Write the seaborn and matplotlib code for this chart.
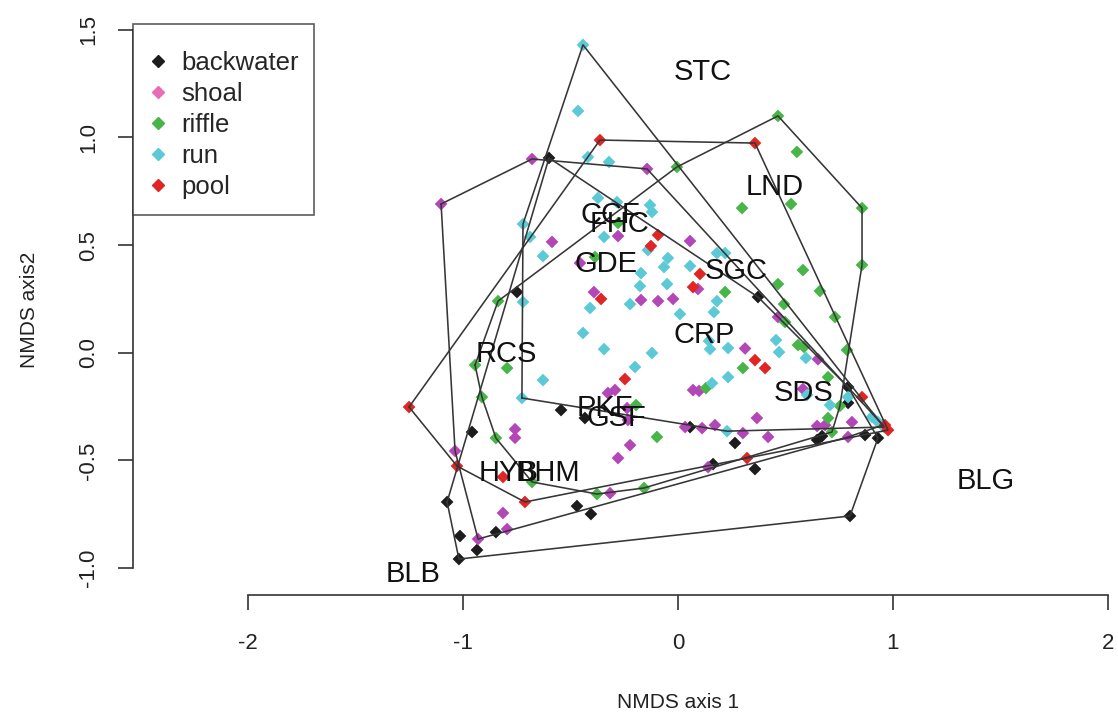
import numpy as np
import pandas as pd
import matplotlib
matplotlib.use("Agg")
import matplotlib.pyplot as plt
from matplotlib.lines import Line2D
import seaborn as sns

# site scores, one pair of lists per habitat
backwater_x = [-0.600, 0.372, -0.749, 0.791, 0.791, 0.930, 0.870, 0.800, 0.647, 0.670, 0.358, 0.265,
               0.163, 0.056, -0.433, -0.544, -0.470, -0.405, -0.847, -1.014, -0.935, -1.019, -1.074, -0.958]
backwater_y = [0.905, 0.259, 0.282, -0.159, -0.233, -0.396, -0.382, -0.758, -0.405, -0.387, -0.540, -0.419,
               -0.517, -0.345, -0.303, -0.266, -0.712, -0.749, -0.833, -0.851, -0.916, -0.958, -0.693, -0.368]

shoal_x = [-1.102, -0.679, -0.144, -0.279, 0.056, -0.456, -0.586, -0.391, -0.172, -0.093, -0.023, 0.093,
           0.312, 0.070, 0.098, -0.326, -0.293, -0.237, -0.233, -0.223, -0.279, 0.033, 0.112, 0.172,
           0.140, -0.316, 0.302, 0.367, 0.419, -0.758, -0.758, -1.037, -0.814, -0.795, -0.930, 0.581,
           0.647, 0.684, 0.809, 0.791, 0.651, 0.953, 0.465]
shoal_y = [0.691, 0.900, 0.854, 0.542, 0.519, 0.417, 0.515, 0.282, 0.245, 0.240, 0.250, 0.296,
           0.020, -0.173, -0.177, -0.187, -0.173, -0.257, -0.312, -0.429, -0.489, -0.345, -0.350, -0.336,
           -0.531, -0.652, -0.373, -0.303, -0.391, -0.355, -0.395, -0.456, -0.744, -0.819, -0.865, -0.168,
           -0.340, -0.336, -0.322, -0.391, -0.030, -0.336, 0.166]

riffle_x = [0.465, 0.553, 0.298, 0.526, 0.856, 0.856, 0.581, 0.465, 0.493, 0.660, 0.730, 0.498,
            0.786, 0.698, 0.558, 0.586, 0.302, 0.219, -0.005, -0.279, -0.386, -0.837, 0.130, -0.195,
            -0.098, -0.944, -0.795, -0.912, -0.847, -0.679, -0.377, -0.158, 0.753, 0.698, 0.716]
riffle_y = [1.100, 0.933, 0.672, 0.691, 0.672, 0.408, 0.384, 0.319, 0.226, 0.287, 0.166, 0.143,
            0.013, -0.113, 0.036, 0.027, -0.071, 0.282, 0.863, 0.603, 0.445, 0.240, -0.164, -0.243,
            -0.391, -0.057, -0.071, -0.206, -0.396, -0.600, -0.656, -0.628, -0.247, -0.303, -0.368]

run_x = [-0.442, -0.465, -0.419, -0.321, -0.372, -0.284, -0.130, -0.121, -0.721, -0.688, -0.628, -0.344,
         -0.140, -0.047, -0.065, 0.056, -0.172, -0.177, -0.051, 0.181, 0.219, 0.181, 0.167, 0.009,
         -0.409, -0.223, -0.721, -0.442, -0.344, -0.121, -0.200, 0.144, 0.149, 0.233, 0.456, 0.470,
         0.595, 0.158, 0.233, -0.628, -0.726, 0.228, 0.707, 0.791, 0.902, 0.930, 0.600, 0.958]
run_y = [1.430, 1.123, 0.909, 0.886, 0.719, 0.700, 0.686, 0.654, 0.598, 0.538, 0.449, 0.538,
         0.477, 0.440, 0.398, 0.403, 0.370, 0.310, 0.319, 0.463, 0.463, 0.240, 0.189, 0.180,
         0.208, 0.226, 0.236, 0.092, 0.017, -0.001, -0.066, 0.055, 0.017, 0.022, 0.059, 0.003,
         -0.024, -0.141, -0.113, -0.127, -0.210, -0.364, -0.243, -0.206, -0.298, -0.322, -0.196, -0.345]

pool_x = [-0.363, 0.358, -0.093, -0.126, 0.102, 0.070, -0.358, -0.247, 0.358, 0.405, 0.856, 0.977,
          0.963, 0.321, -0.712, -1.028, -1.251, -0.814]
pool_y = [0.988, 0.974, 0.547, 0.496, 0.366, 0.305, 0.250, -0.122, -0.034, -0.071, -0.206, -0.359,
          -0.336, -0.489, -0.693, -0.526, -0.252, -0.577]

# species scores
species = ["STC", "LND", "CCF", "FHC", "GDE", "SGC", "CRP", "RCS", "PKF", "GSF",
           "HYB", "BHM", "SDS", "BLB", "BLG"]
species_x = [0.116, 0.451, -0.316, -0.274, -0.335, 0.270, 0.121, -0.800, -0.340, -0.288,
             -0.786, -0.605, 0.586, -1.233, 1.433]
species_y = [1.304, 0.769, 0.639, 0.597, 0.411, 0.380, 0.083, -0.006, -0.256, -0.304,
             -0.558, -0.558, -0.186, -1.028, -0.596]

habitats = ["backwater", "shoal", "riffle", "run", "pool"]
point_colors = {"backwater": "#1c1c1c", "shoal": "#b447b8", "riffle": "#47b547",
                "run": "#5cc9d6", "pool": "#e02525"}
legend_colors = {"backwater": "#1c1c1c", "shoal": "#e86cb6", "riffle": "#47b547",
                 "run": "#5cc9d6", "pool": "#e02525"}

xs = [backwater_x, shoal_x, riffle_x, run_x, pool_x]
ys = [backwater_y, shoal_y, riffle_y, run_y, pool_y]
df = pd.concat([pd.DataFrame({"NMDS1": x, "NMDS2": y, "habitat": h})
                for h, x, y in zip(habitats, xs, ys)], ignore_index=True)


def convex_hull(points):
    pts = sorted(set(points))

    def cross(o, a, b):
        return (a[0] - o[0]) * (b[1] - o[1]) - (a[1] - o[1]) * (b[0] - o[0])

    lower, upper = [], []
    for p in pts:
        while len(lower) >= 2 and cross(lower[-2], lower[-1], p) <= 0:
            lower.pop()
        lower.append(p)
    for p in reversed(pts):
        while len(upper) >= 2 and cross(upper[-2], upper[-1], p) <= 0:
            upper.pop()
        upper.append(p)
    return lower[:-1] + upper[:-1]


sns.set_style("white")
plt.rcParams["font.family"] = ["Liberation Sans", "DejaVu Sans"]

fig = plt.figure(figsize=(11.18, 7.21), dpi=100)
ax = fig.add_axes([133 / 1118, 1 - 595 / 721, 1090 / 1118, 571 / 721])

sns.scatterplot(data=df, x="NMDS1", y="NMDS2", hue="habitat", palette=point_colors,
                marker="D", s=42, linewidth=0, legend=False, ax=ax, zorder=2)

# one hull per habitat
for h in habitats:
    sub = df[df["habitat"] == h]
    hv = convex_hull(list(zip(sub["NMDS1"], sub["NMDS2"])))
    hv = np.array(hv + [hv[0]])
    ax.plot(hv[:, 0], hv[:, 1], color="#363636", lw=1.15, zorder=3)

for name, x, y in zip(species, species_x, species_y):
    ax.text(x, y, name, ha="center", va="center", fontsize=21, color="#111111", zorder=4)

ax.set_xlim(-2.535, 2.535)
ax.set_ylim(-1.125, 1.527)
ax.set_xticks([-2, -1, 0, 1, 2])
ax.set_yticks([-1.0, -0.5, 0.0, 0.5, 1.0, 1.5])
ax.set_xticklabels(["-2", "-1", "0", "1", "2"])
ax.set_yticklabels(["-1.0", "-0.5", "0.0", "0.5", "1.0", "1.5"])

for side in ["top", "right"]:
    ax.spines[side].set_visible(False)
for side in ["left", "bottom"]:
    ax.spines[side].set_color("#333333")
    ax.spines[side].set_linewidth(1.2)
ax.spines["bottom"].set_bounds(-2, 2)
ax.spines["left"].set_bounds(-1.0, 1.5)

ax.tick_params(axis="both", which="major", bottom=True, left=True, direction="out",
               length=10.5, width=1.2, color="#333333", labelsize=16, labelcolor="#222222")
ax.tick_params(axis="x", pad=17)
ax.tick_params(axis="y", pad=14)
for lab in ax.get_yticklabels():
    lab.set_rotation(90)
    lab.set_va("center")
    lab.set_ha("right")

ax.set_xlabel("NMDS axis 1", fontsize=15, color="#222222", labelpad=28)
ax.set_ylabel("NMDS axis2", fontsize=15, color="#222222", labelpad=28)

handles = [Line2D([], [], marker="D", ls="", color=legend_colors[h], ms=6.5) for h in habitats]
leg = ax.legend(handles, habitats, loc="upper left", bbox_to_anchor=(0, 1), borderaxespad=0,
                fontsize=18.5, frameon=True, fancybox=False, edgecolor="#333333",
                title=" ", title_fontsize=2,
                borderpad=0.6, handlelength=0.75, handletextpad=0.52, labelspacing=0.28)
leg.get_frame().set_linewidth(1.2)
leg.set_zorder(5)

fig.savefig("out.png", dpi=100)
